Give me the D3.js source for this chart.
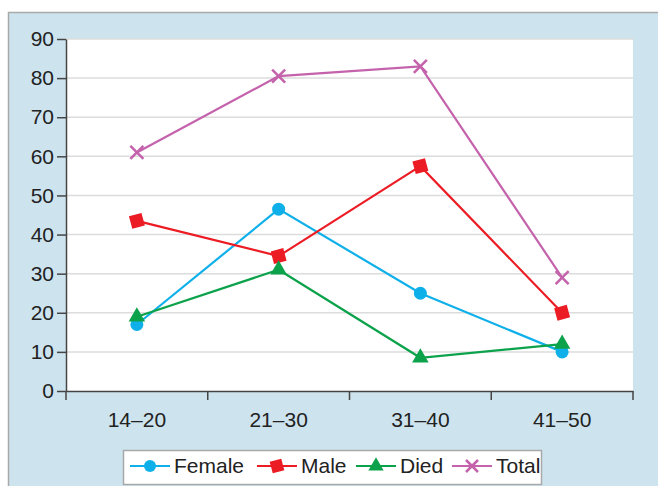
<!DOCTYPE html>
<html>
<head>
<meta charset="utf-8">
<script src="https://cdn.jsdelivr.net/npm/d3@7"></script>
<style>
  body { margin: 0; background: #fff; }
  svg { display: block; font-family: "Liberation Sans", Arial, sans-serif; }
</style>
</head>
<body>
<div id="wrapper"></div>
<script>
const categories = ["14–20", "21–30", "31–40", "41–50"];
const female = [17, 46.5, 25, 10];
const male = [43.5, 34.5, 57.5, 20];
const died = [19, 31, 8.5, 12];
const total = [61, 80.5, 83, 29];
const yTicks = [0, 10, 20, 30, 40, 50, 60, 70, 80, 90];

const series = [
  { name: "Female", values: female, color: "#0fb0ea", marker: "circle" },
  { name: "Male", values: male, color: "#ec1c24", marker: "square" },
  { name: "Died", values: died, color: "#0ca24b", marker: "triangle" },
  { name: "Total", values: total, color: "#c462ac", marker: "cross" },
];

const dimensions = {
  width: 658,
  height: 486,
  margin: { top: 39, right: 25, bottom: 95, left: 66 },
}
dimensions.boundedWidth = dimensions.width - dimensions.margin.left - dimensions.margin.right
dimensions.boundedHeight = dimensions.height - dimensions.margin.top - dimensions.margin.bottom

const wrapper = d3.select("#wrapper")
  .append("svg")
    .attr("width", dimensions.width)
    .attr("height", dimensions.height)

// light blue panel behind everything
wrapper.append("rect")
  .attr("x", 8.5)
  .attr("y", 12.5)
  .attr("width", 670)
  .attr("height", 500)
  .attr("fill", "#cde4ef")
  .attr("stroke", "#a9a9a9")
  .attr("stroke-width", 1.5)

const bounds = wrapper.append("g")
  .attr("transform", `translate(${dimensions.margin.left}, ${dimensions.margin.top})`)

bounds.append("rect")
  .attr("width", dimensions.boundedWidth)
  .attr("height", dimensions.boundedHeight)
  .attr("fill", "#fff")

const yScale = d3.scaleLinear()
  .domain([0, 90])
  .range([dimensions.boundedHeight, 0])

const xScale = d3.scaleBand()
  .domain(categories)
  .range([0, dimensions.boundedWidth])

const xPos = d => xScale(d) + xScale.bandwidth() / 2

// gridlines
bounds.selectAll(".grid")
  .data(yTicks.filter(d => d > 0))
  .join("line")
    .attr("class", "grid")
    .attr("x1", 0)
    .attr("x2", dimensions.boundedWidth)
    .attr("y1", d => yScale(d))
    .attr("y2", d => yScale(d))
    .attr("stroke", "#dcdcdc")
    .attr("stroke-width", 1.5)

const yAxis = bounds.append("g")
  .call(d3.axisLeft(yScale).tickValues(yTicks).tickSize(9).tickPadding(3).tickSizeOuter(0))
yAxis.attr("font-size", null)
yAxis.selectAll("text")
  .style("font-size", "21px")
  .attr("fill", "#222")
yAxis.selectAll("line, path").attr("stroke", "#444").attr("stroke-width", 1.5)

const xAxis = bounds.append("g")
  .attr("transform", `translate(0, ${dimensions.boundedHeight})`)
  .call(d3.axisBottom(xScale).tickSize(0).tickPadding(21))
xAxis.attr("font-size", null)
xAxis.selectAll("text")
  .style("font-size", "21px")
  .attr("fill", "#222")
xAxis.select(".domain").attr("stroke", "#444").attr("stroke-width", 1.5)

// category boundary ticks
const boundaries = categories.map(c => xScale(c)).concat([dimensions.boundedWidth])
xAxis.selectAll(".btick")
  .data(boundaries)
  .join("line")
    .attr("class", "btick")
    .attr("x1", d => d)
    .attr("x2", d => d)
    .attr("y1", 0)
    .attr("y2", 9)
    .attr("stroke", "#444")
    .attr("stroke-width", 1.5)

const lineGenerator = d3.line()
  .x((d, i) => xPos(categories[i]))
  .y(d => yScale(d))

function drawMarker(g, type, color, size) {
  if (type === "circle") {
    g.append("circle").attr("r", size * 0.5).attr("fill", color)
  } else if (type === "square") {
    g.append("rect")
      .attr("x", -size * 0.5).attr("y", -size * 0.5)
      .attr("width", size).attr("height", size)
      .attr("fill", color)
      .attr("transform", "rotate(-15)")
  } else if (type === "triangle") {
    g.append("path")
      .attr("d", d3.symbol(d3.symbolTriangle, size * size * 0.7)())
      .attr("fill", color)
  } else {
    const s = size * 0.5
    g.append("path")
      .attr("d", `M${-s},${-s}L${s},${s}M${-s},${s}L${s},${-s}`)
      .attr("stroke", color)
      .attr("stroke-width", 2.5)
      .attr("fill", "none")
  }
}

for (const s of series) {
  bounds.append("path")
    .datum(s.values)
    .attr("d", lineGenerator)
    .attr("fill", "none")
    .attr("stroke", s.color)
    .attr("stroke-width", 2.2)

  s.values.forEach((v, i) => {
    const g = bounds.append("g")
      .attr("transform", `translate(${xPos(categories[i])}, ${yScale(v)})`)
    drawMarker(g, s.marker, s.color, 13)
  })
}

// legend
const legend = wrapper.append("g")
legend.append("rect")
  .attr("x", 123.5)
  .attr("y", 450.5)
  .attr("width", 418)
  .attr("height", 34)
  .attr("fill", "#fff")
  .attr("stroke", "#a9a9a9")
  .attr("stroke-width", 1.5)

const legendX = [130, 257, 356, 452]
series.forEach((s, i) => {
  const item = legend.append("g")
    .attr("transform", `translate(${legendX[i]}, 466)`)
  item.append("line")
    .attr("x1", 0).attr("x2", 40)
    .attr("stroke", s.color)
    .attr("stroke-width", 2)
  const m = item.append("g").attr("transform", "translate(20, 0)")
  drawMarker(m, s.marker, s.color, 12)
  item.append("text")
    .attr("x", 44)
    .attr("dy", "0.35em")
    .style("font-size", "21px")
    .attr("fill", "#222")
    .text(s.name)
})
</script>
</body>
</html>
